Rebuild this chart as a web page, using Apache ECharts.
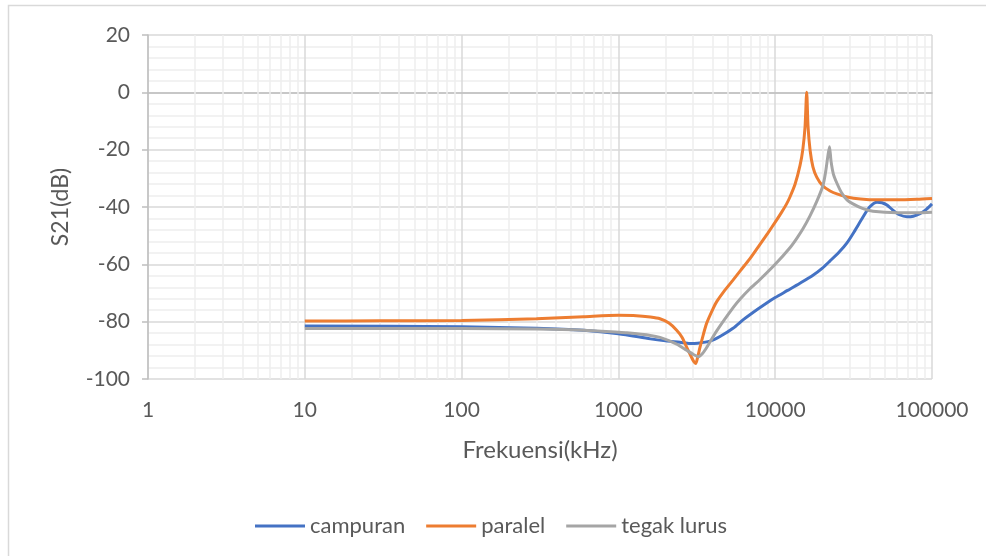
<!DOCTYPE html>
<html>
<head>
<meta charset="utf-8">
<script src="https://cdn.jsdelivr.net/npm/echarts@6/dist/echarts.min.js"></script>
<style>
html,body{margin:0;padding:0;background:#fff;}
#c{width:986px;height:556px;}
</style>
</head>
<body>
<div id="c"></div>
<script>
// ---- data (frequency in kHz, S21 in dB) ----
const seriesNames = ['campuran', 'paralel', 'tegak lurus'];

const freqCampuran = [10, 100, 300, 600, 1000, 1600, 2000, 2470, 2860, 3200, 3840, 4500, 5380, 6260, 7000, 8830, 10000, 12000, 14380, 17420, 20000, 22390, 25500, 28700, 32000, 36300, 40000, 44600, 48000, 51600, 56000, 62000, 69300, 76000, 83800, 92000, 100000];
const s21Campuran = [-81.5, -81.8, -82.3, -83, -84.2, -86, -86.7, -87.2, -87.6, -87.5, -86.8, -85, -82.3, -79.3, -77.3, -73.5, -71.6, -69.1, -66.6, -63.8, -61.3, -58.8, -55.8, -52.5, -48.5, -43.5, -40, -38.3, -38.5, -39.3, -41, -42.7, -43.4, -43.2, -42.3, -40.8, -38.9];

const freqParalel = [10, 30, 100, 300, 600, 1000, 1300, 1600, 1841, 2100, 2353, 2550, 2728, 2900, 3030, 3112, 3200, 3313, 3480, 3656, 4010, 4236, 4700, 5380, 6000, 6900, 8000, 9000, 10000, 11000, 11800, 12400, 13400, 14400, 15000, 15500, 15880, 16200, 16700, 17400, 18400, 20000, 22400, 25000, 28700, 35000, 45000, 60000, 80000, 100000];
const s21Paralel = [-79.8, -79.7, -79.6, -79.0, -78.3, -77.8, -77.9, -78.4, -79, -80.5, -83, -85.5, -89, -92, -94, -94.6, -92.5, -89, -84.5, -80.5, -75.5, -73, -69.5, -65.5, -62.2, -58, -53, -49, -45.3, -41.8, -39, -36.6, -32, -25.5, -20, -12, 0, -12, -20.3, -26, -29.6, -32.5, -34.4, -35.5, -36.5, -37.2, -37.5, -37.5, -37.3, -37];

const freqTegak = [10, 100, 300, 600, 1000, 1130, 1600, 1841, 2353, 2728, 3000, 3234, 3450, 3656, 4236, 5406, 6000, 6900, 8000, 10000, 12420, 13700, 15000, 16670, 18500, 20180, 21000, 21700, 22200, 22700, 23500, 24800, 26500, 28700, 31350, 36000, 42000, 60000, 80000, 100000];
const s21Tegak = [-82.4, -82.4, -82.6, -83, -83.7, -83.9, -84.8, -85.5, -87.8, -90, -91.4, -92.2, -91, -89, -83.2, -75, -72, -68.5, -65.3, -60, -54.2, -51, -47.7, -43.1, -37.8, -32.4, -27.5, -22, -19, -24, -28.5, -31.8, -35, -37.5, -38.9, -40.5, -41.5, -42, -42, -41.8];

const xTickLabels = ['1', '10', '100', '1000', '10000', '100000'];
const yTicks = [-100, -80, -60, -40, -20, 0, 20];

// minor log grid positions (2..9 x each decade)
const minorX = [];
for (let d = 1; d < 100000; d *= 10) {
  for (let m = 2; m <= 9; m++) minorX.push(m * d);
}

const pair = (xs, ys) => xs.map((x, i) => [x, ys[i]]);

const FONT = 'Lato';
const TXT = '#595959';

const chart = echarts.init(document.getElementById('c'), null, {renderer: 'canvas'});
chart.setOption({
  animation: false,
  backgroundColor: '#ffffff',
  textStyle: {fontFamily: FONT},
  graphic: [{
    type: 'rect',
    shape: {x: 8.5, y: 5.5, width: 1000, height: 600},
    style: {fill: 'none', stroke: '#d9d9d9', lineWidth: 1.5},
    silent: true, z: -10
  }],
  grid: {left: 148, right: 54, top: 35, bottom: 177, containLabel: false},
  legend: {
    data: seriesNames,
    left: 250, top: 510,
    icon: 'rect',
    itemWidth: 50, itemHeight: 3, itemGap: 21,
    textStyle: {fontFamily: FONT, fontSize: 22, color: TXT}
  },
  xAxis: {
    type: 'log', logBase: 10, min: 1, max: 100000,
    name: 'Frekuensi(kHz)', nameLocation: 'middle', nameGap: 59,
    nameTextStyle: {fontFamily: FONT, fontSize: 24, color: TXT},
    axisLine: {show: true, lineStyle: {color: '#bfbfbf', width: 1.5}},
    axisTick: {show: false},
    axisLabel: {
      fontFamily: FONT, fontSize: 21, color: TXT, margin: 21,
      formatter: v => xTickLabels[Math.round(Math.log10(v))]
    },
    splitLine: {show: true, lineStyle: {color: '#d9d9d9', width: 1.5}}
  },
  yAxis: {
    type: 'value', min: yTicks[0], max: yTicks[yTicks.length - 1], interval: 20,
    name: 'S21(dB)', nameLocation: 'middle', nameGap: 76, nameRotate: 90,
    nameTextStyle: {fontFamily: FONT, fontSize: 23, color: TXT},
    axisLine: {show: true, lineStyle: {color: '#bfbfbf', width: 1.5}},
    axisTick: {show: true, length: 6, lineStyle: {color: '#bfbfbf', width: 1.5}},
    axisLabel: {fontFamily: FONT, fontSize: 21, color: TXT, margin: 18},
    splitLine: {show: true, lineStyle: {color: '#d9d9d9', width: 1.5}},
    minorTick: {show: false, splitNumber: 5},
    minorSplitLine: {show: true, lineStyle: {color: '#eeeeee', width: 1.5}}
  },
  series: [
    {
      name: 'minorGrid', type: 'line', data: [], z: 1, zlevel: 0, silent: true,
      markLine: {
        silent: true, symbol: 'none', animation: false,
        label: {show: false},
        emphasis: {disabled: true},
        lineStyle: {color: '#eeeeee', width: 1.5, type: 'solid'},
        data: minorX.map(v => ({xAxis: v}))
      }
    },
    {
      name: seriesNames[0], type: 'line', data: pair(freqCampuran, s21Campuran),
      showSymbol: false, symbol: 'none', zlevel: 1, z: 10, smooth: 0.25,
      itemStyle: {color: '#4472C4'},
      lineStyle: {color: '#4472C4', width: 3}
    },
    {
      name: seriesNames[1], type: 'line', data: pair(freqParalel, s21Paralel),
      showSymbol: false, symbol: 'none', zlevel: 1, z: 11, smooth: 0.25,
      itemStyle: {color: '#ED7D31'},
      lineStyle: {color: '#ED7D31', width: 3}
    },
    {
      name: seriesNames[2], type: 'line', data: pair(freqTegak, s21Tegak),
      showSymbol: false, symbol: 'none', zlevel: 1, z: 12, smooth: 0.25,
      itemStyle: {color: '#A5A5A5'},
      lineStyle: {color: '#A5A5A5', width: 3}
    }
  ]
});
</script>
</body>
</html>
